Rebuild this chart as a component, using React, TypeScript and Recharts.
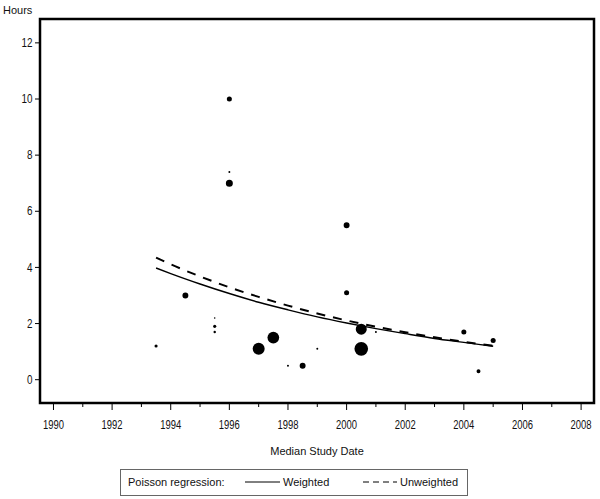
import React from 'react';
import { ComposedChart, Scatter, Line, XAxis, YAxis, ZAxis, ReferenceArea, Legend } from 'recharts';

// study medians (weight = relative bubble area)
const studyYear = [1993.5, 1994.5, 1995.5, 1995.5, 1995.5, 1996, 1996, 1996, 1997, 1997.5, 1998, 1998.5, 1999, 2000, 2000, 2000.5, 2000.5, 2001, 2004, 2004.5, 2005];
const studyHours = [1.2, 3.0, 2.2, 1.9, 1.7, 10.0, 7.4, 7.0, 1.1, 1.5, 0.5, 0.5, 1.1, 5.5, 3.1, 1.8, 1.1, 1.7, 1.7, 0.3, 1.4];
const studyWeight = [5, 18, 1.3, 5, 3, 13, 2, 25, 73, 70, 2, 18, 2, 18, 13, 62, 95, 2, 13, 8, 13];

// fitted curves
const fitYears = [1993.5, 1994, 1995, 1996, 1997, 1998, 1999, 2000, 2001, 2002, 2003, 2004, 2005];
const weightedFit = [3.98, 3.78, 3.41, 3.07, 2.76, 2.49, 2.24, 2.02, 1.82, 1.64, 1.47, 1.33, 1.19];
const unweightedFit = [4.35, 4.11, 3.68, 3.29, 2.95, 2.64, 2.36, 2.11, 1.89, 1.69, 1.51, 1.35, 1.21];

const xTicks = [1990, 1991, 1992, 1993, 1994, 1995, 1996, 1997, 1998, 1999, 2000, 2001, 2002, 2003, 2004, 2005, 2006, 2007, 2008];
const yTicks = [0, 2, 4, 6, 8, 10, 12];

const X_MIN = 1989.54;
const X_MAX = 2008.44;
const Y_MIN = -0.83;
const Y_MAX = 12.85;

const FONT = '"Liberation Sans", Arial, sans-serif';

const points = studyYear.map((x, i) => ({ x, y: studyHours[i], w: studyWeight[i] }));
const weightedData = fitYears.map((x, i) => ({ x, y: weightedFit[i] }));
const unweightedData = fitYears.map((x, i) => ({ x, y: unweightedFit[i] }));

// the plot frame sits at x=40 (left) and y=403 (bottom)
const renderXTick = (props: any) => {
  const { x, payload } = props;
  const y = 403;
  const major = payload.value % 2 === 0;
  return (
    <g key={`xt-${payload.value}`}>
      <line x1={x} x2={x} y1={y} y2={y + (major ? 7 : 4)} stroke="#000" />
      {major && (
        <text x={x} y={y + 26} textAnchor="middle" fontSize={12} fontFamily={FONT} fill="#111"
          textLength={21} lengthAdjust="spacingAndGlyphs">
          {payload.value}
        </text>
      )}
    </g>
  );
};

const renderYTick = (props: any) => {
  const { y, payload } = props;
  const x = 40;
  return (
    <g key={`yt-${payload.value}`}>
      <line x1={x - 5} x2={x} y1={y} y2={y} stroke="#000" />
      <text x={x - 7.5} y={y + 4.2} textAnchor="end" fontSize={12} fontFamily={FONT} fill="#111"
        textLength={String(payload.value).length * 5.5} lengthAdjust="spacingAndGlyphs">
        {payload.value}
      </text>
    </g>
  );
};

function LegendBox() {
  return (
    <svg width={349} height={28} style={{ display: 'block' }}>
      <rect x={0.5} y={0.5} width={347} height={26} fill="#fff" stroke="#666" />
      <g fontFamily={FONT} fontSize={11} fill="#111">
        <text x={8} y={17}>Poisson regression:</text>
        <line x1={125} x2={160} y1={13} y2={13} stroke="#000" strokeWidth={1} />
        <text x={163} y={17}>Weighted</text>
        <line x1={243} x2={277} y1={13} y2={13} stroke="#000" strokeWidth={1} strokeDasharray="6 4" />
        <text x={280} y={17}>Unweighted</text>
      </g>
    </svg>
  );
}

export default function App() {
  return (
    <div style={{ position: 'absolute', left: 0, top: 0, width: 600, height: 499, background: '#fff' }}>
      <ComposedChart width={600} height={499} margin={{ top: 19, right: 6, bottom: 66, left: 10 }}>
        <XAxis
          type="number"
          dataKey="x"
          domain={[X_MIN, X_MAX]}
          allowDataOverflow
          ticks={xTicks}
          interval={0}
          height={30}
          axisLine={false}
          tickLine={false}
          tick={renderXTick}
          label={{ value: 'Median Study Date', position: 'insideTop', offset: 44, fontSize: 11, fontFamily: FONT, fill: '#111' }}
        />
        <YAxis
          type="number"
          dataKey="y"
          domain={[Y_MIN, Y_MAX]}
          allowDataOverflow
          ticks={yTicks}
          interval={0}
          width={30}
          axisLine={false}
          tickLine={false}
          tick={renderYTick}
          label={{
            content: () => (
              <text x={3} y={14} fontSize={11} fontFamily={FONT} fill="#111">Hours</text>
            ),
          }}
        />
        <ZAxis type="number" dataKey="w" domain={[0, 100]} range={[0, 154]} />
        <Line data={weightedData} dataKey="y" type="monotone" stroke="#000" strokeWidth={1.4} dot={false} activeDot={false} isAnimationActive={false} />
        <Line data={unweightedData} dataKey="y" type="monotone" stroke="#000" strokeWidth={2} strokeDasharray="9 8" dot={false} activeDot={false} isAnimationActive={false} />
        <Scatter data={points} fill="#000" shape="circle" isAnimationActive={false} />
        <ReferenceArea x1={X_MIN} x2={X_MAX} y1={Y_MIN} y2={Y_MAX} fill="none" fillOpacity={0} stroke="#000" strokeWidth={2.5} ifOverflow="visible" />
        <Legend
          layout="horizontal"
          verticalAlign="middle"
          align="center"
          content={() => <LegendBox />}
          wrapperStyle={{ position: 'absolute', left: 120, top: 469, width: 349, height: 28 }}
        />
      </ComposedChart>
    </div>
  );
}
